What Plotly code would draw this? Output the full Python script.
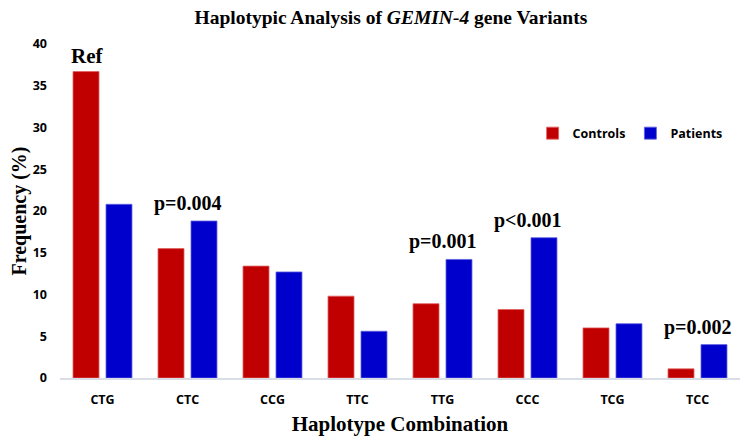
import plotly.graph_objects as go

categories = ["CTG", "CTC", "CCG", "TTC", "TTG", "CCC", "TCG", "TCC"]
controls = [36.7, 15.5, 13.4, 9.8, 8.9, 8.2, 6.0, 1.1]
patients = [20.8, 18.8, 12.7, 5.6, 14.2, 16.8, 6.5, 4.0]
y_ticks = [0, 5, 10, 15, 20, 25, 30, 35, 40]
p_labels = {"CTC": "p=0.004", "TTG": "p=0.001", "CCC": "p<0.001", "TCC": "p=0.002"}

fig = go.Figure()
fig.add_trace(go.Bar(name="Controls", x=categories, y=controls,
                     marker=dict(color="#C00000", line=dict(color="#E06060", width=0.8))))
fig.add_trace(go.Bar(name="Patients", x=categories, y=patients,
                     marker=dict(color="#0000CC", line=dict(color="#6060E0", width=0.8))))

serif = "Liberation Serif, Times New Roman, serif"
sans = "Open Sans, sans-serif"
annotations = [dict(x=categories[0], y=controls[0], text="<b>Ref</b>", showarrow=False,
                    xshift=-16, yshift=2, yanchor="bottom",
                    font=dict(family=serif, size=21, color="black"))]
for c, t in p_labels.items():
    i = categories.index(c)
    annotations.append(dict(x=c, y=max(controls[i], patients[i]), text="<b>" + t + "</b>",
                            showarrow=False, yanchor="bottom", yshift=4,
                            font=dict(family=serif, size=20, color="black")))

fig.update_layout(
    width=742, height=434,
    margin=dict(l=52, r=10, t=36, b=62),
    paper_bgcolor="white", plot_bgcolor="white",
    barmode="group", bargap=0.224, bargroupgap=0.212,
    title=dict(text="<b>Haplotypic Analysis of <i>GEMIN-4</i> gene Variants</b>",
               x=0.516, xanchor="center", y=0.995, yanchor="top",
               font=dict(family=serif, size=19.5, color="black")),
    legend=dict(orientation="h", x=0.695, y=0.732, xanchor="left", yanchor="middle",
                font=dict(family=sans, size=12.5, color="black", weight="bold"),
                bgcolor="rgba(0,0,0,0)", traceorder="normal", itemwidth=30),
    annotations=annotations,
    font=dict(family=sans),
)
fig.update_xaxes(
    automargin=True,
    showline=True, linecolor="#D9DEE6", linewidth=1.5, ticks="",
    ticklabelstandoff=9,
    tickfont=dict(family=sans, size=12.5, color="black", weight="bold"),
    title=dict(text="<b>Haplotype Combination</b>", standoff=10,
               font=dict(family=serif, size=21, color="black")),
)
fig.update_yaxes(
    automargin=False,
    range=[0, 40], tickvals=y_ticks, showgrid=False, zeroline=False, showline=False,
    tickfont=dict(family=sans, size=12.5, color="black", weight="bold"),
    ticklabelstandoff=12,
    title=dict(text="<b>Frequency (%)</b>", standoff=18,
               font=dict(family=serif, size=20, color="black")),
)
fig.write_html("out.html")
